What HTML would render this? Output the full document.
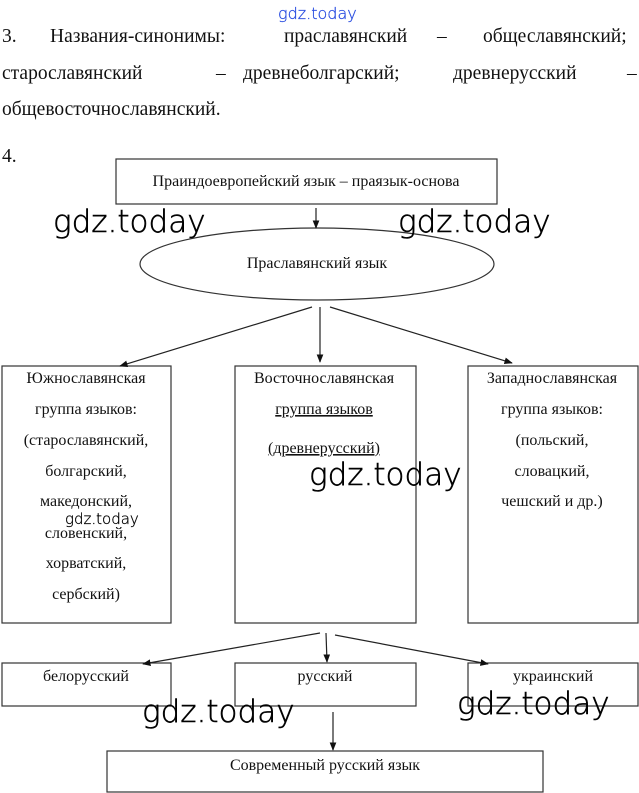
<!DOCTYPE html>
<html><head><meta charset="utf-8"><style>
html,body{margin:0;padding:0;background:#fff;}
svg{display:block}
.t{font-family:"Liberation Serif",serif;fill:#111;}
.w{font-family:"DejaVu Sans","Liberation Sans",sans-serif;font-weight:200;fill:#000;stroke:#000;stroke-width:0.5;}
</style></head><body>
<svg width="639" height="793" viewBox="0 0 639 793" xmlns="http://www.w3.org/2000/svg">
<defs><marker id="a" viewBox="0 0 10 10" refX="9" refY="5" markerWidth="7" markerHeight="7" orient="auto"><path d="M0,1 L10,5 L0,9 z" fill="#111"/></marker></defs>
<text x="278" y="19" font-family="DejaVu Sans,sans-serif" font-weight="200" font-size="16" style="fill:#2a4ee0;stroke:#2a4ee0;stroke-width:0.3">gdz.today</text>
<g class="t" font-size="19.5">
<text x="2" y="42">3.</text><text x="50" y="42">Названия-синонимы:</text><text x="284" y="42">праславянский</text><text x="437" y="42">–</text><text x="483" y="42">общеславянский;</text>
<text x="2" y="79">старославянский</text><text x="216" y="79">–</text><text x="243" y="79">древнеболгарский;</text><text x="453" y="79">древнерусский</text><text x="627" y="79">–</text>
<text x="2" y="115">общевосточнославянский.</text>
<text x="2" y="162">4.</text>
</g>
<g fill="none" stroke="#333" stroke-width="1.2">
<rect x="116" y="159" width="381" height="45"/>
<ellipse cx="317" cy="264" rx="177" ry="36"/>
<rect x="2" y="366" width="169" height="257"/>
<rect x="235" y="366" width="181" height="257"/>
<rect x="468" y="366" width="170" height="257"/>
<rect x="2" y="663" width="169" height="43"/>
<rect x="235" y="663" width="181" height="43"/>
<rect x="468" y="663" width="170" height="43"/>
<rect x="107" y="751" width="436" height="41"/>
</g>
<g stroke="#222" stroke-width="1.2" marker-end="url(#a)">
<line x1="316" y1="208" x2="316" y2="228"/>
<line x1="312" y1="307" x2="120" y2="366"/>
<line x1="320" y1="307" x2="320" y2="362"/>
<line x1="330" y1="307" x2="512" y2="363"/>
<line x1="320" y1="633" x2="143" y2="664"/>
<line x1="326" y1="633" x2="327" y2="662"/>
<line x1="335" y1="635" x2="488" y2="664"/>
<line x1="333" y1="712" x2="333" y2="750"/>
</g>
<g class="t" font-size="16" text-anchor="middle">
<text x="306" y="186">Праиндоевропейский язык – праязык-основа</text>
<text x="317" y="268">Праславянский язык</text>
<text x="86" y="383">Южнославянская</text>
<text x="86" y="414">группа языков:</text>
<text x="86" y="445">(старославянский,</text>
<text x="86" y="476">болгарский,</text>
<text x="86" y="506">македонский,</text>
<text x="86" y="538">словенский,</text>
<text x="86" y="568">хорватский,</text>
<text x="86" y="599">сербский)</text>
<text x="324" y="383">Восточнославянская</text>
<text x="324" y="414" text-decoration="underline">группа языков</text>
<text x="324" y="453" text-decoration="underline">(древнерусский)</text>
<text x="552" y="383">Западнославянская</text>
<text x="552" y="414">группа языков:</text>
<text x="552" y="445">(польский,</text>
<text x="552" y="476">словацкий,</text>
<text x="552" y="506">чешский и др.)</text>
<text x="86" y="681">белорусский</text>
<text x="325" y="681">русский</text>
<text x="553" y="681">украинский</text>
<text x="325" y="770">Современный русский язык</text>
</g>
<g class="w" font-size="31">
<text x="53" y="232">gdz.today</text>
<text x="398" y="232">gdz.today</text>
<text x="309" y="485">gdz.today</text>
<text x="142" y="722">gdz.today</text>
<text x="457" y="714">gdz.today</text>
</g>
<text x="65" y="524" class="w" font-size="15" style="stroke-width:0.3">gdz.today</text>
</svg>
</body></html>
